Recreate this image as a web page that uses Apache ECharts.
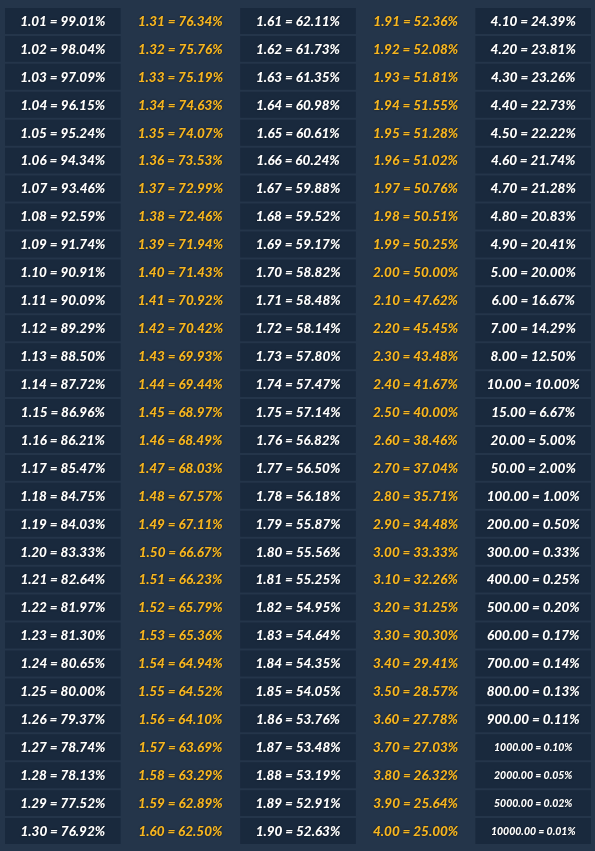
<!DOCTYPE html>
<html><head><meta charset="utf-8">
<script src="https://cdn.jsdelivr.net/npm/echarts@6/dist/echarts.min.js"></script>
<style>html,body{margin:0;padding:0;background:#24354a}#c{width:595px;height:851px}</style>
</head><body><div id="c"></div>
<script>
const odds1=["1.01","1.02","1.03","1.04","1.05","1.06","1.07","1.08","1.09","1.10","1.11","1.12","1.13","1.14","1.15","1.16","1.17","1.18","1.19","1.20","1.21","1.22","1.23","1.24","1.25","1.26","1.27","1.28","1.29","1.30"];
const pct1=["99.01","98.04","97.09","96.15","95.24","94.34","93.46","92.59","91.74","90.91","90.09","89.29","88.50","87.72","86.96","86.21","85.47","84.75","84.03","83.33","82.64","81.97","81.30","80.65","80.00","79.37","78.74","78.13","77.52","76.92"];
const odds2=["1.31","1.32","1.33","1.34","1.35","1.36","1.37","1.38","1.39","1.40","1.41","1.42","1.43","1.44","1.45","1.46","1.47","1.48","1.49","1.50","1.51","1.52","1.53","1.54","1.55","1.56","1.57","1.58","1.59","1.60"];
const pct2=["76.34","75.76","75.19","74.63","74.07","73.53","72.99","72.46","71.94","71.43","70.92","70.42","69.93","69.44","68.97","68.49","68.03","67.57","67.11","66.67","66.23","65.79","65.36","64.94","64.52","64.10","63.69","63.29","62.89","62.50"];
const odds3=["1.61","1.62","1.63","1.64","1.65","1.66","1.67","1.68","1.69","1.70","1.71","1.72","1.73","1.74","1.75","1.76","1.77","1.78","1.79","1.80","1.81","1.82","1.83","1.84","1.85","1.86","1.87","1.88","1.89","1.90"];
const pct3=["62.11","61.73","61.35","60.98","60.61","60.24","59.88","59.52","59.17","58.82","58.48","58.14","57.80","57.47","57.14","56.82","56.50","56.18","55.87","55.56","55.25","54.95","54.64","54.35","54.05","53.76","53.48","53.19","52.91","52.63"];
const odds4=["1.91","1.92","1.93","1.94","1.95","1.96","1.97","1.98","1.99","2.00","2.10","2.20","2.30","2.40","2.50","2.60","2.70","2.80","2.90","3.00","3.10","3.20","3.30","3.40","3.50","3.60","3.70","3.80","3.90","4.00"];
const pct4=["52.36","52.08","51.81","51.55","51.28","51.02","50.76","50.51","50.25","50.00","47.62","45.45","43.48","41.67","40.00","38.46","37.04","35.71","34.48","33.33","32.26","31.25","30.30","29.41","28.57","27.78","27.03","26.32","25.64","25.00"];
const odds5=["4.10","4.20","4.30","4.40","4.50","4.60","4.70","4.80","4.90","5.00","6.00","7.00","8.00","10.00","15.00","20.00","50.00","100.00","200.00","300.00","400.00","500.00","600.00","700.00","800.00","900.00","1000.00","2000.00","5000.00","10000.00"];
const pct5=["24.39","23.81","23.26","22.73","22.22","21.74","21.28","20.83","20.41","20.00","16.67","14.29","12.50","10.00","6.67","5.00","2.00","1.00","0.50","0.33","0.25","0.20","0.17","0.14","0.13","0.11","0.10","0.05","0.02","0.01"];
const columns=["c1","c2","c3","c4","c5"];
const rows=odds1.map((_,i)=>String(i));
const oddsCols=[odds1,odds2,odds3,odds4,odds5], pctCols=[pct1,pct2,pct3,pct4,pct5];
const data=[];
oddsCols.forEach((col,c)=>col.forEach((o,r)=>data.push([c,r,o+" = "+pctCols[c][r]+"%",o.length>=7?1:0])));
const chart=echarts.init(document.getElementById('c'));
chart.setOption({
  backgroundColor:'#24354a',
  grid:{left:4,right:3,top:7,bottom:6},
  xAxis:{type:'category',data:columns,show:false},
  yAxis:{type:'category',data:rows,inverse:true,show:false},
  series:[{type:'custom',data:data,renderItem:(params,api)=>{
    const c=api.value(0), r=api.value(1), d=data[params.dataIndex];
    const p=api.coord([c,r]); const s=api.size([1,1]);
    const yellow=(c===1||c===3);
    const children=[];
    if(!yellow) children.push({type:'rect',shape:{x:p[0]-s[0]/2+1,y:p[1]-s[1]/2+1,width:s[0]-2,height:s[1]-2},style:{fill:'#19293d'}});
    children.push({type:'text',x:p[0],y:p[1]+0.5,style:{text:d[2],fill:yellow?'#f6b520':'#ffffff',align:'center',verticalAlign:'middle',
      font:'italic 900 '+(d[3]?'10.5px':'13.5px')+' Lato',textShadowColor:'rgba(0,0,0,0.6)',textShadowBlur:2}});
    return {type:'group',children};
  }}]
});
</script></body></html>
